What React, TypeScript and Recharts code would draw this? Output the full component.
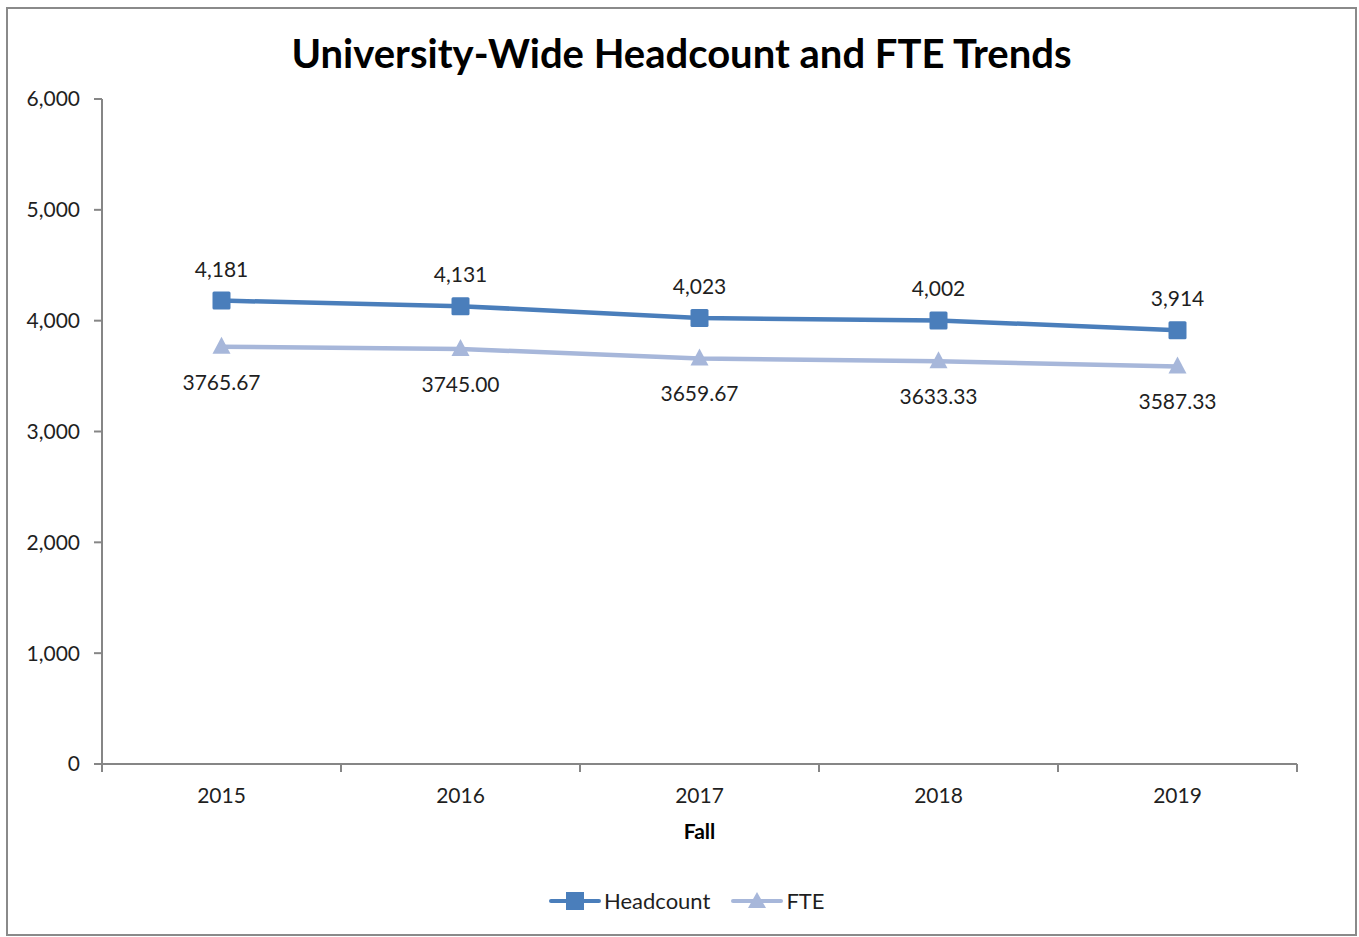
import React from 'react';
import { LineChart, Line, XAxis, YAxis, LabelList } from 'recharts';

const years = ['2015', '2016', '2017', '2018', '2019'];
const headcount = [4181, 4131, 4023, 4002, 3914];
const fte = [3765.67, 3745.0, 3659.67, 3633.33, 3587.33];
const yTicks = [0, 1000, 2000, 3000, 4000, 5000, 6000];

const HEAD_COLOR = '#4a7ebb';
const FTE_COLOR = '#a7b7da';
const AXIS_COLOR = '#868686';
const TEXT_COLOR = '#1f1f1f';
const FONT = 'Lato, "Open Sans", sans-serif';
const FS = 21;

const chartData = years.map((year, i) => ({
  year,
  headcount: headcount[i],
  fte: fte[i],
}));

const W = 1359;
const H = 937;
const PLOT_LEFT = 102;
const PLOT_RIGHT = 1297;
const STEP = (PLOT_RIGHT - PLOT_LEFT) / years.length;

const fmtComma = (v: number) => v.toLocaleString('en-US');

const XTick = (props: any) => {
  const { x, y, payload, index } = props;
  const axisY = y - 8;
  const isLast = index === years.length - 1;
  return (
    <g>
      <line x1={x - STEP / 2} y1={axisY} x2={x - STEP / 2} y2={axisY + 8} stroke={AXIS_COLOR} strokeWidth={2} />
      {isLast && (
        <line x1={x + STEP / 2} y1={axisY} x2={x + STEP / 2} y2={axisY + 8} stroke={AXIS_COLOR} strokeWidth={2} />
      )}
      <text x={x} y={axisY + 34} textAnchor="middle" dominantBaseline="middle" fill={TEXT_COLOR} fontSize={FS} fontFamily={FONT}>
        {payload.value}
      </text>
    </g>
  );
};

const SquareDot = (props: any) => {
  const { cx, cy } = props;
  if (cx == null || cy == null) return null;
  return <rect x={cx - 9} y={cy - 9} width={18} height={18} rx={1.5} fill={HEAD_COLOR} />;
};

const TriangleDot = (props: any) => {
  const { cx, cy } = props;
  if (cx == null || cy == null) return null;
  return <path d={`M${cx},${cy - 10} L${cx + 9},${cy + 7} L${cx - 9},${cy + 7} Z`} fill={FTE_COLOR} />;
};

const LegendIcon = ({ color, shape }: { color: string; shape: 'square' | 'triangle' }) => (
  <svg width={52} height={20} style={{ display: 'block' }}>
    <line x1={2} y1={10} x2={50} y2={10} stroke={color} strokeWidth={4} strokeLinecap="round" />
    {shape === 'square' ? (
      <rect x={17} y={1} width={18} height={18} fill={color} />
    ) : (
      <path d="M26,1 L35,17 L17,17 Z" fill={color} />
    )}
  </svg>
);

export default function App() {
  return (
    <div style={{ position: 'absolute', left: 0, top: 0, width: W, height: H, background: '#fff', fontFamily: FONT }}>
      <div
        style={{
          position: 'absolute',
          left: 6,
          top: 7,
          width: 1351,
          height: 929,
          border: '2px solid #8a8a8a',
          boxSizing: 'border-box',
        }}
      />
      <div
        style={{
          position: 'absolute',
          left: 0,
          top: 29,
          width: W + 4,
          textAlign: 'center',
          fontSize: 40,
          fontWeight: 700,
          color: '#000',
          lineHeight: '48px',
        }}
      >
        University-Wide Headcount and FTE Trends
      </div>
      <LineChart
        width={W}
        height={H}
        data={chartData}
        margin={{ top: 99, right: W - PLOT_RIGHT, bottom: 0, left: PLOT_LEFT - 60 }}
        style={{ position: 'absolute', left: 0, top: 0 }}
      >
        <XAxis
          dataKey="year"
          height={H - 764}
          padding={{ left: STEP / 2, right: STEP / 2 }}
          axisLine={{ stroke: AXIS_COLOR, strokeWidth: 2 }}
          tickLine={false}
          tickSize={8}
          tickMargin={0}
          tick={<XTick />}
          interval={0}
        />
        <YAxis
          width={60}
          domain={[0, 6000]}
          ticks={yTicks}
          tickFormatter={fmtComma}
          axisLine={{ stroke: AXIS_COLOR, strokeWidth: 2 }}
          tickLine={{ stroke: AXIS_COLOR, strokeWidth: 2 }}
          tickSize={8}
          tickMargin={14}
          tick={{ fill: TEXT_COLOR, fontSize: FS, fontFamily: FONT }}
          interval={0}
        />
        <Line
          type="linear"
          dataKey="headcount"
          name="Headcount"
          stroke={HEAD_COLOR}
          strokeWidth={4.5}
          dot={<SquareDot />}
          activeDot={false}
          isAnimationActive={false}
        >
          <LabelList
            dataKey="headcount"
            position="top"
            offset={24}
            formatter={(v: any) => fmtComma(Number(v))}
            fill={TEXT_COLOR}
            fontSize={FS}
            fontFamily={FONT}
          />
        </Line>
        <Line
          type="linear"
          dataKey="fte"
          name="FTE"
          stroke={FTE_COLOR}
          strokeWidth={4.5}
          dot={<TriangleDot />}
          activeDot={false}
          isAnimationActive={false}
        >
          <LabelList
            dataKey="fte"
            position="bottom"
            offset={28}
            formatter={(v: any) => Number(v).toFixed(2)}
            fill={TEXT_COLOR}
            fontSize={FS}
            fontFamily={FONT}
          />
        </Line>
      </LineChart>
      <div
        style={{
          position: 'absolute',
          left: 0,
          top: 818,
          width: PLOT_RIGHT - PLOT_LEFT,
          marginLeft: PLOT_LEFT,
          textAlign: 'center',
          fontSize: FS,
          fontWeight: 700,
          color: '#000',
        }}
      >
        Fall
      </div>
      <div
        style={{
          position: 'absolute',
          left: 549,
          top: 887,
          display: 'flex',
          alignItems: 'center',
          fontSize: 22,
          color: TEXT_COLOR,
        }}
      >
        <LegendIcon color={HEAD_COLOR} shape="square" />
        <span style={{ marginLeft: 3, marginRight: 21 }}>Headcount</span>
        <LegendIcon color={FTE_COLOR} shape="triangle" />
        <span style={{ marginLeft: 3 }}>FTE</span>
      </div>
    </div>
  );
}
